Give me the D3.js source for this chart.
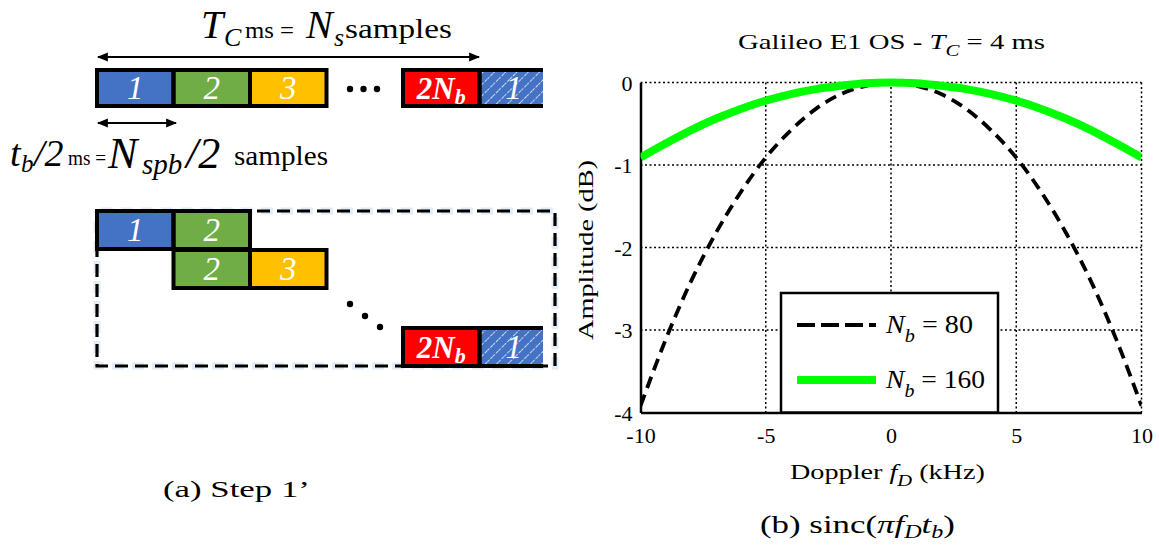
<!DOCTYPE html>
<html><head><meta charset="utf-8">
<script src="https://cdn.jsdelivr.net/npm/d3@7"></script>
<style>
body{margin:0;background:#fff}
svg{display:block}
text{font-family:"Liberation Serif","DejaVu Serif",serif}
</style>
</head><body>
<svg id="c" width="1159" height="545"></svg>
<script>
// ---------- data ----------
const freqKHz = [-10,-9,-8,-7,-6,-5,-4,-3,-2,-1,0,1,2,3,4,5,6,7,8,9,10];
const ampNb80 = [-3.92,-3.12,-2.42,-1.83,-1.33,-0.91,-0.58,-0.32,-0.14,-0.04,0,-0.04,-0.14,-0.32,-0.58,-0.91,-1.33,-1.83,-2.42,-3.12,-3.92];
const ampNb160 = [-0.91,-0.74,-0.58,-0.44,-0.32,-0.22,-0.14,-0.08,-0.04,-0.01,0,-0.01,-0.04,-0.08,-0.14,-0.22,-0.32,-0.44,-0.58,-0.74,-0.91];
const xTicks = [-10,-5,0,5,10];
const yTicks = [0,-1,-2,-3,-4];
const legendLabels = ["80","160"];
// diagram blocks: [row, slot, label, kind]
const topRowBlocks = [[0,0,"1","blue"],[0,1,"2","green"],[0,2,"3","yellow"],[0,4,"2N","red"],[0,5,"1","hatch"]];
const stepBlocks = [[0,0,"1","blue"],[0,1,"2","green"],[1,1,"2","green"],[1,2,"3","yellow"],[3,4,"2N","red"],[3,5,"1","hatch"]];

const svg = d3.select("#c");
const defs = svg.append("defs");
const SERIF = "'Liberation Serif','DejaVu Serif',serif";
const SANS = "'Liberation Sans',Arial,sans-serif";

function fitX(sel, L, R){
  const b = sel.node().getBBox();
  const sx = (R-L)/b.width;
  sel.attr("transform",`translate(${L},0) scale(${sx},1) translate(${-b.x},0)`);
}

// ---------- diagram (a) ----------
const fills = {blue:"#4472C4", green:"#70AD47", yellow:"#FFC000", red:"#FF0000", hatch:"url(#hatch)"};
const pat = defs.append("pattern").attr("id","hatch").attr("patternUnits","userSpaceOnUse")
  .attr("width",8).attr("height",8).attr("patternTransform","rotate(45)");
pat.append("rect").attr("width",8).attr("height",8).attr("fill","#4472C4");
pat.append("line").attr("x1",0).attr("y1",0).attr("x2",0).attr("y2",8)
  .attr("stroke","#fff").attr("stroke-width",1.5).attr("stroke-dasharray","3,1.5");

const mk = defs.append("marker").attr("id","arr").attr("viewBox","0 0 10 10")
  .attr("refX",9).attr("refY",5).attr("markerWidth",13).attr("markerHeight",11)
  .attr("orient","auto-start-reverse").attr("markerUnits","userSpaceOnUse");
mk.append("path").attr("d","M0,1 L10,5 L0,9 Z").attr("fill","#000");

const slotX = d3.scaleLinear().domain([0,1]).range([97,173.5]);
const slotW = slotX(1)-slotX(0);
const clipRight = 543;

function drawBlocks(g, blocks, rowY, rowH){
  blocks.forEach(([r,s,label,kind])=>{
    const x0 = slotX(s), y0 = rowY(r);
    const w = Math.min(slotW, clipRight - x0);
    g.append("rect").attr("x",x0).attr("y",y0).attr("width",w).attr("height",rowH).attr("fill",fills[kind]);
    const cx = kind==="hatch" ? x0 + slotW/2 - 4 : x0 + w/2;
    const t = g.append("text").attr("x",cx).attr("y",y0+rowH/2+11).attr("text-anchor","middle")
      .attr("fill","#fff").attr("font-style","italic").attr("font-size",33);
    if(label==="2N"){
      t.attr("font-weight","bold").attr("font-size",31);
      t.append("tspan").text("2N");
      t.append("tspan").attr("font-size",22).attr("dy",5).text("b");
    } else t.text(label);
  });
  blocks.forEach(([r,s,label,kind])=>{
    const x0 = slotX(s), y0 = rowY(r);
    const w = Math.min(slotW, clipRight - x0);
    if(kind==="hatch"){
      g.append("path").attr("d",`M${x0+w},${y0} H${x0} V${y0+rowH} H${x0+w}`)
        .attr("fill","none").attr("stroke","#000").attr("stroke-width",4);
    } else {
      g.append("rect").attr("x",x0).attr("y",y0).attr("width",w).attr("height",rowH)
        .attr("fill","none").attr("stroke","#000").attr("stroke-width",4);
    }
  });
}

const gA = svg.append("g");
drawBlocks(gA, topRowBlocks, r=>70, 36);
[0,1,2].forEach(i=> gA.append("circle").attr("cx",350+i*13.5).attr("cy",89).attr("r",3.2).attr("fill","#000"));
gA.append("line").attr("x1",98).attr("x2",479).attr("y1",57).attr("y2",57)
  .attr("stroke","#000").attr("stroke-width",1.8).attr("marker-start","url(#arr)").attr("marker-end","url(#arr)");
gA.append("line").attr("x1",98).attr("x2",176).attr("y1",123).attr("y2",123)
  .attr("stroke","#000").attr("stroke-width",1.8).attr("marker-start","url(#arr)").attr("marker-end","url(#arr)");

// line 1 text
const t1 = gA.append("g");
t1.append("text").attr("x",201).attr("y",38).attr("font-style","italic").attr("font-size",40).text("T");
t1.append("text").attr("x",224).attr("y",46).attr("font-style","italic").attr("font-size",26).text("C");
t1.append("text").attr("x",245).attr("y",38).attr("font-size",24).attr("textLength",49).attr("lengthAdjust","spacingAndGlyphs").text("ms =");
t1.append("text").attr("x",306).attr("y",38).attr("font-style","italic").attr("font-size",40).text("N");
t1.append("text").attr("x",334).attr("y",46).attr("font-style","italic").attr("font-size",26).text("s");
t1.append("text").attr("x",345).attr("y",38).attr("font-size",28).attr("textLength",107).attr("lengthAdjust","spacingAndGlyphs").text("samples");

// line 2 text
const t2 = gA.append("g");
t2.append("text").attr("x",10).attr("y",166).attr("font-family",SANS).attr("font-style","italic").attr("font-size",38).text("t");
t2.append("text").attr("x",21).attr("y",172).attr("font-family",SANS).attr("font-style","italic").attr("font-size",25).text("b");
t2.append("text").attr("x",34).attr("y",166).attr("font-family",SANS).attr("font-style","italic").attr("font-size",38).text("/2");
t2.append("text").attr("x",68).attr("y",165).attr("font-size",22).attr("textLength",38).attr("lengthAdjust","spacingAndGlyphs").text("ms =");
t2.append("text").attr("x",108).attr("y",168).attr("font-family",SANS).attr("font-style","italic").attr("font-size",44).text("N");
t2.append("text").attr("x",142).attr("y",174).attr("font-family",SANS).attr("font-style","italic").attr("font-size",29).text("spb");
t2.append("text").attr("x",186).attr("y",168).attr("font-family",SANS).attr("font-style","italic").attr("font-size",44).text("/2");
t2.append("text").attr("x",234).attr("y",165).attr("font-size",28).attr("textLength",94).attr("lengthAdjust","spacingAndGlyphs").text("samples");

// step diagram
const gS = svg.append("g");
gS.append("rect").attr("x",97).attr("y",211).attr("width",458).attr("height",155)
  .attr("fill","none").attr("stroke","#e3ecf7").attr("stroke-width",7).attr("stroke-dasharray","12,8").attr("stroke-dashoffset",-4);
gS.append("rect").attr("x",97).attr("y",211).attr("width",458).attr("height",155)
  .attr("fill","none").attr("stroke","#000").attr("stroke-width",3.2).attr("stroke-dasharray","13,7");
drawBlocks(gS, stepBlocks, r=>211 + r*39, 38);
[[350,304],[365,316],[380,327]].forEach(([cx,cy])=> gS.append("circle").attr("cx",cx).attr("cy",cy).attr("r",3.2).attr("fill","#000"));

const ca = svg.append("text").attr("y",497).attr("font-size",23).text("(a) Step 1’");
fitX(ca, 163, 310);

// ---------- plot (b) ----------
const x = d3.scaleLinear().domain([-10,10]).range([640.5,1141.5]);
const y = d3.scaleLinear().domain([-4,0]).range([412.5,82.5]);
const gP = svg.append("g");

gP.selectAll(".vg").data(xTicks.filter(d=>d>-10)).enter().append("line")
  .attr("x1",d=>x(d)).attr("x2",d=>x(d)).attr("y1",y(0)).attr("y2",y(-4))
  .attr("stroke","#000").attr("stroke-width",1.5).attr("stroke-dasharray","2,2.5");
gP.selectAll(".hg").data(yTicks.filter(d=>d>-4)).enter().append("line")
  .attr("x1",x(-10)).attr("x2",x(10)).attr("y1",d=>y(d)).attr("y2",d=>y(d))
  .attr("stroke","#000").attr("stroke-width",1.5).attr("stroke-dasharray","2,2.5");

const fmt = d => String(d);
const xAxis = d3.axisBottom(x).tickValues(xTicks).tickSize(0).tickPadding(15).tickFormat(fmt);
const yAxis = d3.axisLeft(y).tickValues(yTicks).tickSize(0).tickPadding(8).tickFormat(fmt);
const gx = gP.append("g").attr("transform",`translate(0,${y(-4)})`).call(xAxis);
const gy = gP.append("g").attr("transform",`translate(${x(-10)},0)`).call(yAxis);
[gx,gy].forEach(g=>{
  g.attr("font-family",SERIF);
  g.select(".domain").attr("stroke","#000").attr("stroke-width",2.5);
  g.selectAll("text").attr("font-family",SERIF).attr("font-size",22).attr("fill","#000");
});
gx.selectAll("text").attr("dy","0.71em");
gy.selectAll("text").attr("dy","0.36em");

defs.append("clipPath").attr("id","pc").append("rect")
  .attr("x",x(-10)).attr("y",y(0)-6).attr("width",x(10)-x(-10)).attr("height",y(-4)-y(0)+6);

const pts80 = freqKHz.map((f,i)=>({f, a:ampNb80[i]}));
const pts160 = freqKHz.map((f,i)=>({f, a:ampNb160[i]}));
const line = d3.line().x(d=>x(d.f)).y(d=>y(d.a)).curve(d3.curveMonotoneX);
const gc = gP.append("g").attr("clip-path","url(#pc)");
gc.append("path").attr("d",line(pts80)).attr("fill","none").attr("stroke","#000")
  .attr("stroke-width",3.8).attr("stroke-dasharray","12,7");
gc.append("path").attr("d",line(pts160)).attr("fill","none").attr("stroke","#00ff00")
  .attr("stroke-width",8);

// legend
const lg = gP.append("g");
lg.append("rect").attr("x",781).attr("y",293).attr("width",217).attr("height",119.5)
  .attr("fill","#fff").attr("stroke","#000").attr("stroke-width",2.5);
const legStyles = [{c:"#000",w:4,d:"18,6"},{c:"#00ff00",w:8,d:null}];
const legRight = [973, 985];
legendLabels.forEach((lab,i)=>{
  const yy = 325 + i*55;
  const ln = lg.append("line").attr("x1",797).attr("x2",876).attr("y1",yy).attr("y2",yy)
    .attr("stroke",legStyles[i].c).attr("stroke-width",legStyles[i].w);
  if(legStyles[i].d) ln.attr("stroke-dasharray",legStyles[i].d);
  const t = lg.append("text").attr("y",yy+8).attr("font-size",25);
  t.append("tspan").attr("font-style","italic").text("N");
  t.append("tspan").attr("font-style","italic").attr("font-size",18).attr("dy",9).text("b");
  t.append("tspan").attr("dy",-9).text(" = " + lab);
  fitX(t, 885, legRight[i]);
});

// title
const tt = svg.append("text").attr("y",49).attr("font-size",22);
tt.append("tspan").text("Galileo E1 OS - ");
tt.append("tspan").attr("font-style","italic").text("T");
tt.append("tspan").attr("font-style","italic").attr("font-size",16).attr("dy",7).text("C");
tt.append("tspan").attr("dy",-7).text(" = 4 ms");
fitX(tt, 738, 1045);

// axis labels
svg.append("text").attr("transform","translate(593,250) rotate(-90)")
  .attr("text-anchor","middle").attr("font-size",22)
  .attr("textLength",180).attr("lengthAdjust","spacingAndGlyphs").text("Amplitude (dB)");
const xl = svg.append("text").attr("y",479).attr("font-size",22);
xl.append("tspan").text("Doppler ");
xl.append("tspan").attr("font-style","italic").text("f");
xl.append("tspan").attr("font-style","italic").attr("font-size",16).attr("dy",7).text("D");
xl.append("tspan").attr("dy",-7).text(" (kHz)");
fitX(xl, 790, 985);

// caption (b)
const cb = svg.append("text").attr("y",533).attr("font-size",26);
cb.append("tspan").text("(b) sinc(");
cb.append("tspan").attr("font-style","italic").text("πf");
cb.append("tspan").attr("font-style","italic").attr("font-size",18).attr("dy",5).text("D");
cb.append("tspan").attr("font-style","italic").attr("dy",-5).text("t");
cb.append("tspan").attr("font-style","italic").attr("font-size",18).attr("dy",5).text("b");
cb.append("tspan").attr("dy",-5).text(")");
fitX(cb, 760, 955);
</script>
</body></html>
